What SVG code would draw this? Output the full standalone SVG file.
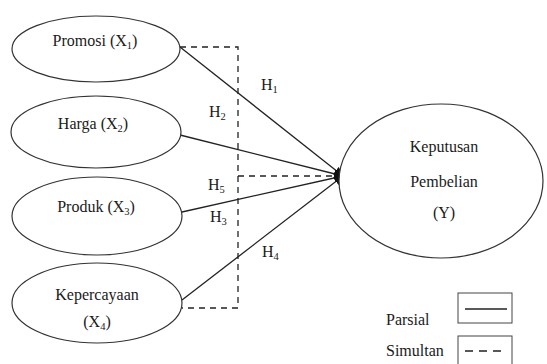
<svg xmlns="http://www.w3.org/2000/svg" width="547" height="364" viewBox="0 0 547 364">
<defs>
<marker id="arr" viewBox="0 0 10 10" refX="10" refY="5" markerWidth="9" markerHeight="9" markerUnits="userSpaceOnUse" orient="auto">
<path d="M0,0 L10,5 L0,10 z" fill="#111"/>
</marker>
</defs>
<style>
.n{fill:#fff;stroke:#333;stroke-width:1.2}
.t{text-anchor:middle}
.s{font-size:10.5px}
.p{stroke:#222;stroke-width:1.3;fill:none}
.d{stroke:#222;stroke-width:1.3;fill:none;stroke-dasharray:6,5}
</style>
<rect width="547" height="364" fill="#fff"/>
<g font-family="Liberation Serif, Times New Roman, DejaVu Serif, Noto Serif, serif" font-size="16" fill="#1a1a1a">
<g id="connectors">
<path class="d" d="M180,47 H238 V308 H182"/>
<path class="d" d="M238,176 H338"/>
<line class="p" x1="180" y1="47" x2="343" y2="176" marker-end="url(#arr)"/>
<line class="p" x1="180" y1="135" x2="343" y2="176" marker-end="url(#arr)"/>
<line class="p" x1="182" y1="212" x2="343" y2="176" marker-end="url(#arr)"/>
<line class="p" x1="182" y1="300" x2="343" y2="176" marker-end="url(#arr)"/>
<text x="261" y="90">H<tspan class="s" dy="3">1</tspan></text>
<text x="209" y="117">H<tspan class="s" dy="3">2</tspan></text>
<text x="208" y="190">H<tspan class="s" dy="3">5</tspan></text>
<text x="210" y="222">H<tspan class="s" dy="3">3</tspan></text>
<text x="262" y="257">H<tspan class="s" dy="3">4</tspan></text>
</g>
<g id="promosi">
<ellipse class="n" cx="96" cy="49" rx="84" ry="33"/>
<text class="t" x="95" y="46">Promosi (X<tspan class="s" dy="3">1</tspan><tspan dy="-3">)</tspan></text>
</g>
<g id="harga">
<ellipse class="n" cx="96" cy="132" rx="85" ry="36"/>
<text class="t" x="93" y="129">Harga (X<tspan class="s" dy="3">2</tspan><tspan dy="-3">)</tspan></text>
</g>
<g id="produk">
<ellipse class="n" cx="97" cy="216" rx="85" ry="39"/>
<text class="t" x="96" y="212">Produk (X<tspan class="s" dy="3">3</tspan><tspan dy="-3">)</tspan></text>
</g>
<g id="kepercayaan">
<ellipse class="n" cx="97" cy="303" rx="85" ry="40"/>
<text class="t" x="97" y="300">Kepercayaan</text>
<text class="t" x="97" y="327">(X<tspan class="s" dy="3">4</tspan><tspan dy="-3">)</tspan></text>
</g>
<g id="keputusan">
<ellipse class="n" cx="441" cy="181" rx="102" ry="77"/>
<text class="t" x="444" y="152">Keputusan</text>
<text class="t" x="444" y="187">Pembelian</text>
<text class="t" x="444" y="218">(Y)</text>
</g>
<g id="legend">
<text x="386" y="325">Parsial</text>
<rect x="458" y="293" width="54" height="30" fill="none" stroke="#444" stroke-width="1"/>
<line x1="465" y1="309" x2="507" y2="309" stroke="#222" stroke-width="1.6"/>
<text x="386" y="356">Simultan</text>
<rect x="458" y="336" width="54" height="34" fill="none" stroke="#444" stroke-width="1"/>
<line x1="465" y1="351" x2="507" y2="351" stroke="#222" stroke-width="1.4" stroke-dasharray="8,6"/>
</g>
</g>
</svg>
